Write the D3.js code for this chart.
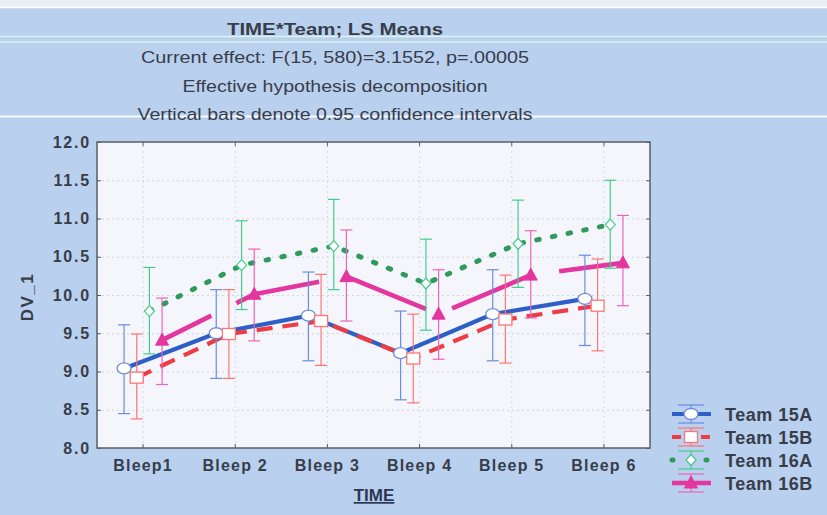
<!DOCTYPE html>
<html>
<head>
<meta charset="utf-8">
<script src="https://cdn.jsdelivr.net/npm/d3@7"></script>
<style>
  html, body { margin: 0; padding: 0; background: #b9d0ef; }
  svg { display: block; font-family: "Liberation Sans", Arial, sans-serif; }
</style>
</head>
<body>
<svg id="chart" width="827" height="515"></svg>
<script>
// ---- data ----
const categories = ["Bleep1", "Bleep 2", "Bleep 3", "Bleep 4", "Bleep 5", "Bleep 6"];
const series = ["Team 15A", "Team 15B", "Team 16A", "Team 16B"];

const mean15A  = [9.04, 9.50, 9.73, 9.24, 9.75, 9.95];
const lower15A = [8.45, 8.91, 9.14, 8.63, 9.14, 9.34];
const upper15A = [9.61, 10.07, 10.30, 9.79, 10.33, 10.52];

const mean15B  = [8.92, 9.49, 9.66, 9.17, 9.68, 9.86];
const lower15B = [8.38, 8.91, 9.08, 8.59, 9.11, 9.27];
const upper15B = [9.49, 10.07, 10.27, 9.75, 10.26, 10.47];

const mean16A  = [9.79, 10.39, 10.64, 10.15, 10.67, 10.92];
const lower16A = [9.23, 9.81, 10.07, 9.54, 10.10, 10.35];
const upper16A = [10.36, 10.97, 11.25, 10.73, 11.24, 11.50];

const mean16B  = [9.41, 10.01, 10.24, 9.75, 10.26, 10.42];
const lower16B = [8.83, 9.40, 9.66, 9.16, 9.70, 9.86];
const upper16B = [9.96, 10.60, 10.85, 10.33, 10.84, 11.04];

const yTicks = [8.0, 8.5, 9.0, 9.5, 10.0, 10.5, 11.0, 11.5, 12.0];

const titleLines = [
  "TIME*Team; LS Means",
  "Current effect: F(15, 580)=3.1552, p=.00005",
  "Effective hypothesis decomposition",
  "Vertical bars denote 0.95 confidence intervals"
];

// ---- series styling ----
const styles = {
  "Team 15A": { line: "#2d5fc6", bar: "#6a8ce0", width: 4.2, dash: null, cap: "butt", marker: "ellipse" },
  "Team 15B": { line: "#ee3c44", bar: "#ff7474", width: 4.2, dash: "16,10", cap: "butt", marker: "square" },
  "Team 16A": { line: "#2f9a5c", bar: "#45cc8c", width: 5, dash: "2.5,13.5", cap: "round", marker: "diamond" },
  "Team 16B": { line: "#e4369f", bar: "#ee64b8", width: 4.6, dash: "86,28", offset: 31, cap: "butt", marker: "triangle" }
};

const table = [
  { name: "Team 15A", mean: mean15A, lo: lower15A, hi: upper15A },
  { name: "Team 15B", mean: mean15B, lo: lower15B, hi: upper15B },
  { name: "Team 16A", mean: mean16A, lo: lower16A, hi: upper16A },
  { name: "Team 16B", mean: mean16B, lo: lower16B, hi: upper16B }
];

const svg = d3.select("#chart");
const W = 827, H = 515;
const plot = { left: 97, right: 650, top: 142, bottom: 448 };
const textColor = "#383d4a";

// ---- backdrop bands ----
svg.append("rect").attr("width", W).attr("height", H).attr("fill", "#b9d0ef");
svg.append("rect").attr("width", W).attr("height", 7).attr("fill", "#e9edf6");
svg.append("line").attr("x1", 0).attr("x2", W).attr("y1", 7.5).attr("y2", 7.5)
  .attr("stroke", "#ffffff").attr("stroke-width", 1.5);
[36.5, 42].forEach(yy => svg.append("line").attr("x1", 0).attr("x2", W)
  .attr("y1", yy).attr("y2", yy).attr("stroke", "#dcf4ef").attr("stroke-width", 1.3));
svg.append("line").attr("x1", 0).attr("x2", W).attr("y1", 116.5).attr("y2", 116.5)
  .attr("stroke", "#f7fbff").attr("stroke-width", 2);

// ---- titles ----
const titleX = 335;
const titleSpecs = [
  { y: 35, len: 216, weight: "bold" },
  { y: 63, len: 388, weight: "normal" },
  { y: 92, len: 305, weight: "normal" },
  { y: 120, len: 395, weight: "normal" }
];
titleLines.forEach((t, i) => {
  svg.append("text")
    .attr("x", titleX).attr("y", titleSpecs[i].y)
    .attr("text-anchor", "middle")
    .attr("font-size", 16)
    .attr("font-weight", titleSpecs[i].weight)
    .attr("fill", textColor)
    .attr("textLength", titleSpecs[i].len)
    .attr("lengthAdjust", "spacingAndGlyphs")
    .text(t);
});

// ---- scales ----
const x = d3.scaleBand().domain(categories).range([plot.left, plot.right]).padding(0);
const offset = d3.scalePoint().domain(series).range([-19, 19]);
const y = d3.scaleLinear().domain([8, 12]).range([plot.bottom, plot.top]);
const cx = (cat, s) => x(cat) + x.bandwidth() / 2 + offset(s);

// plot background
svg.append("rect")
  .attr("x", plot.left).attr("y", plot.top)
  .attr("width", plot.right - plot.left).attr("height", plot.bottom - plot.top)
  .attr("fill", "#f4f6fc");

// gridlines
svg.append("g")
  .attr("transform", `translate(${plot.left},0)`)
  .call(d3.axisLeft(y).tickValues(yTicks.slice(1, -1)).tickSize(-(plot.right - plot.left)).tickFormat(""))
  .call(g => g.select(".domain").remove())
  .call(g => g.selectAll("line").attr("stroke", "#cfd5e2").attr("stroke-dasharray", "2,3"));
svg.append("g")
  .attr("transform", `translate(0,${plot.bottom})`)
  .call(d3.axisBottom(x).tickSize(-(plot.bottom - plot.top)).tickFormat(""))
  .call(g => g.select(".domain").remove())
  .call(g => g.selectAll("line").attr("stroke", "#d5dae6").attr("stroke-dasharray", "2,3"));

// ---- lines ----
const lineGen = d3.line()
  .x(d => d.x)
  .y(d => y(d.v));

const pts = s => categories.map((c, i) => ({ x: cx(c, s.name), v: s.mean[i], lo: s.lo[i], hi: s.hi[i] }));

table.forEach(s => {
  const st = styles[s.name];
  svg.append("path")
    .datum(pts(s))
    .attr("d", lineGen)
    .attr("fill", "none")
    .attr("stroke", st.line)
    .attr("stroke-width", st.width)
    .attr("stroke-linecap", st.cap)
    .attr("stroke-dasharray", st.dash)
    .attr("stroke-dashoffset", st.offset || 0);
});

// ---- error bars ----
const capHalf = 6;
table.forEach(s => {
  const st = styles[s.name];
  const g = svg.append("g").attr("stroke", st.bar).attr("stroke-width", 1.2).attr("fill", "none");
  pts(s).forEach(p => {
    g.append("line").attr("x1", p.x).attr("x2", p.x).attr("y1", y(p.lo)).attr("y2", y(p.hi));
    g.append("line").attr("x1", p.x - capHalf).attr("x2", p.x + capHalf).attr("y1", y(p.lo)).attr("y2", y(p.lo));
    g.append("line").attr("x1", p.x - capHalf).attr("x2", p.x + capHalf).attr("y1", y(p.hi)).attr("y2", y(p.hi));
  });
});

// ---- markers ----
function drawMarker(g, kind, px, py, st) {
  if (kind === "ellipse") {
    g.append("ellipse").attr("cx", px).attr("cy", py).attr("rx", 7).attr("ry", 5.5)
      .attr("fill", "#ffffff").attr("stroke", st.bar).attr("stroke-width", 1.3);
  } else if (kind === "square") {
    g.append("rect").attr("x", px - 6.5).attr("y", py - 5.5).attr("width", 13).attr("height", 11)
      .attr("fill", "#ffffff").attr("stroke", st.bar).attr("stroke-width", 1.3);
  } else if (kind === "diamond") {
    g.append("path").attr("d", `M${px},${py - 5.5}L${px + 5},${py}L${px},${py + 5.5}L${px - 5},${py}Z`)
      .attr("fill", "#ffffff").attr("stroke", st.bar).attr("stroke-width", 1.2);
  } else if (kind === "triangle") {
    g.append("path").attr("d", `M${px},${py - 7}L${px + 6.5},${py + 5}L${px - 6.5},${py + 5}Z`)
      .attr("fill", st.line).attr("stroke", st.line).attr("stroke-width", 1);
  }
}
table.forEach(s => {
  const st = styles[s.name];
  const g = svg.append("g");
  pts(s).forEach(p => drawMarker(g, st.marker, p.x, y(p.v), st));
});

// ---- frame and axes ----
svg.append("rect")
  .attr("x", plot.left).attr("y", plot.top)
  .attr("width", plot.right - plot.left).attr("height", plot.bottom - plot.top)
  .attr("fill", "none").attr("stroke", "#5a5e68").attr("stroke-width", 1.5);

const axisFont = g => g.selectAll("text")
  .attr("font-family", "'Liberation Sans', Arial, sans-serif")
  .attr("font-weight", "bold")
  .attr("font-size", 16)
  .attr("fill", textColor);

svg.append("g")
  .attr("transform", `translate(${plot.left},0)`)
  .call(d3.axisLeft(y).tickValues(yTicks).tickFormat(d3.format(".1f")).tickSizeInner(-4).tickSizeOuter(0).tickPadding(6))
  .call(g => g.select(".domain").remove())
  .call(g => g.selectAll("line").attr("stroke", "#5a5e68"))
  .call(axisFont)
  .call(g => g.selectAll("text").attr("letter-spacing", 1.8));

svg.append("g")
  .attr("transform", `translate(${plot.right},0)`)
  .call(d3.axisRight(y).tickValues(yTicks).tickFormat("").tickSizeInner(-4).tickSizeOuter(0))
  .call(g => g.select(".domain").remove())
  .call(g => g.selectAll("line").attr("stroke", "#5a5e68"));

svg.append("g")
  .attr("transform", `translate(0,${plot.top})`)
  .call(d3.axisTop(x).tickFormat("").tickSizeInner(-4).tickSizeOuter(0))
  .call(g => g.select(".domain").remove())
  .call(g => g.selectAll("line").attr("stroke", "#5a5e68"));

svg.append("g")
  .attr("transform", `translate(0,${plot.bottom})`)
  .call(d3.axisBottom(x).tickSizeInner(-4).tickSizeOuter(0).tickPadding(12))
  .call(g => g.select(".domain").remove())
  .call(g => g.selectAll("line").attr("stroke", "#5a5e68"))
  .call(axisFont)
  .call(g => g.selectAll("text").attr("letter-spacing", 1.2));

// axis titles
svg.append("text")
  .attr("transform", `translate(33,297) rotate(-90)`)
  .attr("text-anchor", "middle")
  .attr("font-size", 17).attr("font-weight", "bold").attr("fill", textColor)
  .attr("letter-spacing", 1.5)
  .text("DV_1");

svg.append("text")
  .attr("x", 374).attr("y", 501)
  .attr("text-anchor", "middle")
  .attr("font-size", 17).attr("font-weight", "bold").attr("fill", "#2c3652")
  .attr("text-decoration", "underline")
  .text("TIME");

// ---- legend ----
const legend = svg.append("g");
const legY = d3.scalePoint().domain(series).range([414, 483]);
const lx0 = 672, lx1 = 711, lmid = 691;
series.forEach(name => {
  const st = styles[name];
  const ly = legY(name);
  const g = legend.append("g");
  // whisker glyph
  g.append("line").attr("x1", lmid - 13).attr("x2", lmid + 13).attr("y1", ly - 9).attr("y2", ly - 9)
    .attr("stroke", st.bar).attr("stroke-width", 1.2);
  g.append("line").attr("x1", lmid - 13).attr("x2", lmid + 13).attr("y1", ly + 9).attr("y2", ly + 9)
    .attr("stroke", st.bar).attr("stroke-width", 1.2);
  g.append("line").attr("x1", lmid).attr("x2", lmid).attr("y1", ly - 9).attr("y2", ly + 9)
    .attr("stroke", st.bar).attr("stroke-width", 1.2);
  // line sample
  const legDash = name === "Team 15B" ? "9,20" : name === "Team 16A" ? "1,16" : null;
  g.append("line").attr("x1", lx0).attr("x2", lx1).attr("y1", ly).attr("y2", ly)
    .attr("stroke", st.line).attr("stroke-width", st.width)
    .attr("stroke-linecap", name === "Team 16A" ? "round" : "butt")
    .attr("stroke-dasharray", legDash);
  drawMarker(g, st.marker, lmid, ly, st);
  g.append("text")
    .attr("x", 725).attr("y", ly + 6.5)
    .attr("font-size", 18).attr("font-weight", "bold").attr("fill", textColor)
    .attr("letter-spacing", 0.5)
    .text(name);
});
</script>
</body>
</html>
